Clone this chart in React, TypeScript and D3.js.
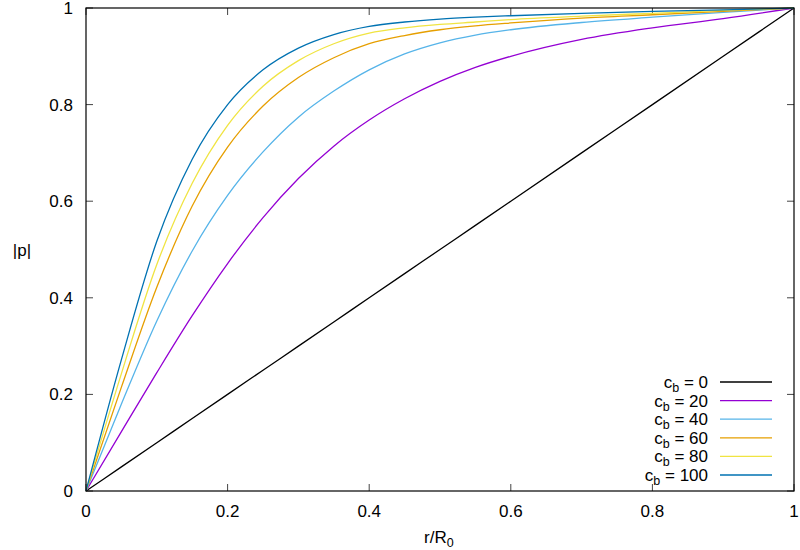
import React from "react";
import * as d3 from "d3";

const xs = [0, 0.05, 0.1, 0.15, 0.2, 0.25, 0.3, 0.35, 0.4, 0.45, 0.5, 0.55, 0.6, 0.7, 0.8, 0.9, 1.0];
const cb0 = [0, 0.05, 0.1, 0.15, 0.2, 0.25, 0.3, 0.35, 0.4, 0.45, 0.5, 0.55, 0.6, 0.7, 0.8, 0.9, 1.0];
const cb20 = [0, 0.123, 0.245, 0.363, 0.471, 0.566, 0.647, 0.714, 0.768, 0.812, 0.848, 0.877, 0.9, 0.935, 0.959, 0.978, 1.0];
const cb40 = [0, 0.18, 0.352, 0.497, 0.612, 0.702, 0.774, 0.828, 0.872, 0.905, 0.928, 0.944, 0.955, 0.97, 0.981, 0.991, 1.0];
const cb60 = [0, 0.215, 0.422, 0.59, 0.712, 0.797, 0.856, 0.897, 0.926, 0.943, 0.955, 0.963, 0.969, 0.979, 0.986, 0.993, 1.0];
const cb80 = [0, 0.243, 0.469, 0.637, 0.757, 0.838, 0.891, 0.926, 0.948, 0.959, 0.966, 0.971, 0.976, 0.983, 0.989, 0.995, 1.0];
const cb100 = [0, 0.272, 0.517, 0.687, 0.8, 0.872, 0.917, 0.945, 0.962, 0.971, 0.977, 0.981, 0.984, 0.989, 0.993, 0.996, 1.0];

const seriesLabels = ["0", "20", "40", "60", "80", "100"];
const seriesValues = [cb0, cb20, cb40, cb60, cb80, cb100];
const seriesColors = ["#000000", "#9400d3", "#56b4e9", "#e69f00", "#f0e442", "#0072b2"];

const xTicks = [0, 0.2, 0.4, 0.6, 0.8, 1];
const yTicks = [0, 0.2, 0.4, 0.6, 0.8, 1];
const tickLabel = (v: number) => String(v);

const W = 800;
const H = 550;
const L = 86;
const R = 794;
const T = 8;
const B = 491;
const FONT = "'Liberation Sans', Arial, Helvetica, sans-serif";
const FS = 17;
const SUB = 12.5;

function measure(text: string, size: number): number {
  if (typeof document === "undefined") return text.length * size * 0.55;
  const c = document.createElement("canvas");
  const ctx = c.getContext("2d");
  if (!ctx) return text.length * size * 0.55;
  ctx.font = `${size}px 'Liberation Sans', Arial, sans-serif`;
  return ctx.measureText(text).width;
}

export default function App() {
  const x = d3.scaleLinear().domain([0, 1]).range([L, R]);
  const y = d3.scaleLinear().domain([0, 1]).range([B, T]);
  const line = d3
    .line<[number, number]>()
    .x((d) => x(d[0]))
    .y((d) => y(d[1]))
    .curve(d3.curveMonotoneX);

  const tickLen = 7;
  const legX = 708;
  const legY0 = 382;
  const legDy = 18.6;
  const xLabStart = 424;

  return (
    <svg
      width={W}
      height={H}
      style={{ position: "absolute", left: 0, top: 0, background: "#fff" }}
      fontFamily={FONT}
    >
      <rect x={0} y={0} width={W} height={H} fill="#fff" />
      {xTicks.map((t, i) => (
        <g key={"xt" + i}>
          <line x1={x(t)} x2={x(t)} y1={B} y2={B - tickLen} stroke="#444" strokeWidth={1} />
          <line x1={x(t)} x2={x(t)} y1={T} y2={T + tickLen} stroke="#444" strokeWidth={1} />
          <text x={x(t)} y={517} textAnchor="middle" fontSize={FS} fill="#000">
            {tickLabel(t)}
          </text>
        </g>
      ))}
      {yTicks.map((t, i) => (
        <g key={"yt" + i}>
          <line x1={L} x2={L + tickLen} y1={y(t)} y2={y(t)} stroke="#444" strokeWidth={1} />
          <line x1={R} x2={R - tickLen} y1={y(t)} y2={y(t)} stroke="#444" strokeWidth={1} />
          <text x={73} y={y(t) + 6} textAnchor="end" fontSize={FS} fill="#000">
            {tickLabel(t)}
          </text>
        </g>
      ))}
      {seriesValues.map((vals, i) => (
        <path
          key={"s" + i}
          d={line(xs.map((xv, j) => [xv, vals[j]] as [number, number])) || ""}
          fill="none"
          stroke={seriesColors[i]}
          strokeWidth={1.3}
        />
      ))}
      <rect x={L} y={T} width={R - L} height={B - T} fill="none" stroke="#000" strokeWidth={1.2} />
      {seriesLabels.map((lab, i) => {
        const cy = legY0 + i * legDy;
        const rest = "= " + lab;
        const wRest = measure(rest, FS);
        const restStart = legX - wRest;
        const bEnd = restStart - measure(" ", FS);
        const wB = measure("b", SUB);
        const bStart = bEnd - wB;
        return (
          <g key={"l" + i}>
            <text x={bStart} y={cy + 6} textAnchor="end" fontSize={FS} fill="#000">
              c
            </text>
            <text x={bStart} y={cy + 10} textAnchor="start" fontSize={SUB} fill="#000">
              b
            </text>
            <text x={legX} y={cy + 6} textAnchor="end" fontSize={FS} fill="#000">
              {rest}
            </text>
            <line x1={720} x2={772} y1={cy} y2={cy} stroke={seriesColors[i]} strokeWidth={1.3} />
          </g>
        );
      })}
      <text x={22} y={256} textAnchor="middle" fontSize={FS} fill="#000">
        |p|
      </text>
      <text x={xLabStart} y={543} textAnchor="start" fontSize={FS} fill="#000">
        r/R
      </text>
      <text x={xLabStart + measure("r/R", FS)} y={547} textAnchor="start" fontSize={SUB} fill="#000">
        0
      </text>
    </svg>
  );
}
